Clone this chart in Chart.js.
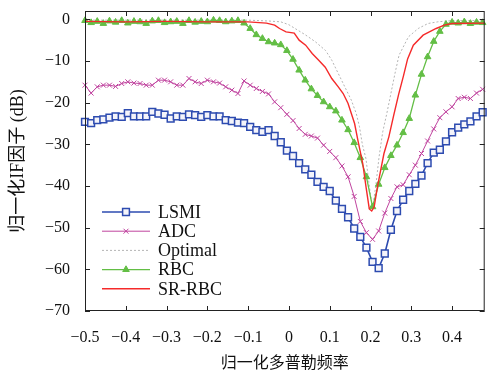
<!DOCTYPE html>
<html lang="zh">
<head>
    <meta charset="UTF-8">
    <title>归一化IF因子</title>
    <script src="https://cdn.jsdelivr.net/npm/chart.js"></script>
    <style>
        body {
            margin: 0;
            background: #fff;
        }
        #wrap {
            width: 491px;
            height: 374px;
            position: relative;
        }
    </style>
</head>
<body>
    <div id="wrap"><canvas id="ifChart"></canvas></div>

    <script>
        // Normalized Doppler frequency (shared by the marker curves)
        const freq = [-0.5, -0.485, -0.47, -0.455, -0.44, -0.425, -0.41, -0.395, -0.38, -0.365,
            -0.35, -0.335, -0.32, -0.305, -0.29, -0.275, -0.26, -0.245, -0.23, -0.215,
            -0.2, -0.185, -0.17, -0.155, -0.14, -0.125, -0.11, -0.095, -0.08, -0.065,
            -0.05, -0.035, -0.02, -0.005, 0.01, 0.025, 0.04, 0.055, 0.07, 0.085,
            0.1, 0.115, 0.13, 0.145, 0.16, 0.175, 0.19, 0.205, 0.22, 0.235,
            0.25, 0.265, 0.28, 0.295, 0.31, 0.325, 0.34, 0.355, 0.37, 0.385,
            0.4, 0.415, 0.43, 0.445, 0.46, 0.475];

        const lsmi = [-24.6, -24.9, -24.2, -24.0, -23.6, -23.3, -23.4, -22.5, -23.3, -23.3,
            -23.3, -22.2, -22.6, -22.9, -23.8, -23.3, -23.4, -22.8, -23.0, -23.4,
            -23.0, -23.3, -23.3, -24.2, -24.4, -24.8, -24.9, -25.8, -26.6, -27.0,
            -26.6, -28.0, -29.5, -31.5, -32.8, -34.5, -36.0, -37.3, -39.0, -40.2,
            -41.2, -43.5, -45.5, -47.5, -50.2, -52.2, -54.8, -58.2, -59.7, -56.2,
            -50.5, -46.0, -43.3, -41.2, -39.5, -37.5, -34.5, -32.0, -31.3, -29.3,
            -27.1, -26.0, -25.2, -24.5, -23.3, -22.3];

        const adc = [-15.8, -17.7, -16.2, -15.8, -15.8, -16.1, -15.4, -15.0, -15.3, -15.4,
            -15.8, -15.8, -14.6, -14.6, -15.0, -15.8, -15.8, -14.2, -15.0, -15.4,
            -14.6, -15.0, -15.3, -16.2, -17.0, -17.8, -14.8, -15.8, -16.6, -17.3,
            -17.9, -19.8, -21.2, -22.8, -24.3, -26.2, -27.6, -28.0, -28.5, -30.2,
            -31.7, -33.2, -35.2, -37.8, -42.5, -48.5, -51.2, -52.8, -50.8, -46.5,
            -43.0, -40.2, -39.7, -37.3, -35.0, -32.2, -29.2, -26.3, -23.6, -22.2,
            -21.0, -19.0, -18.7, -19.0, -17.7, -16.8];

        const rbc = [-0.3, -0.8, -0.5, -1.0, -0.4, -0.7, -0.3, -0.9, -0.5, -0.6,
            -1.0, -0.4, -0.3, -0.8, -0.6, -0.5, -1.0, -0.3, -0.7, -0.5,
            -0.6, -0.2, -0.3, -0.6, -0.4, -0.3, -0.9, -2.2, -3.7, -4.6,
            -5.4, -5.7, -6.1, -7.5, -9.6, -12.2, -14.6, -16.7, -18.3, -19.8,
            -21.0, -22.0, -24.2, -26.5, -29.6, -33.2, -37.8, -45.0, -39.6, -35.6,
            -32.7, -30.2, -27.2, -23.8, -18.2, -13.2, -9.0, -5.3, -2.9, -1.2,
            -0.7, -0.9, -0.6, -1.0, -0.7, -0.8];

        // Curves without markers have their own frequency samples
        const optFreq = [-0.5, -0.3, -0.1, -0.05, -0.02, 0.0, 0.02, 0.04, 0.065, 0.09,
            0.105, 0.12, 0.137, 0.153, 0.165, 0.173, 0.18, 0.189, 0.197, 0.205,
            0.213, 0.221, 0.23, 0.24, 0.25, 0.26, 0.27, 0.293, 0.317, 0.341,
            0.365, 0.4, 0.48];
        const optimal = [-0.2, -0.2, -0.2, -0.4, -0.6, -1.3, -2.5, -3.7, -5.4, -7.5,
            -9.8, -12.8, -16.2, -19.4, -22.6, -25.8, -30.0, -33.5, -40.0, -45.3,
            -40.0, -33.0, -27.0, -22.6, -17.8, -13.0, -8.6, -4.2, -2.2, -1.0,
            -0.6, -0.3, -0.3];

        const srFreq = [-0.5, -0.4, -0.3, -0.2, -0.1, -0.055, -0.035, -0.023, -0.007, 0.013,
            0.025, 0.041, 0.057, 0.073, 0.089, 0.105, 0.121, 0.133, 0.145, 0.153,
            0.161, 0.169, 0.181, 0.189, 0.197, 0.203, 0.209, 0.217, 0.225, 0.233,
            0.245, 0.257, 0.269, 0.281, 0.291, 0.305, 0.329, 0.361, 0.381, 0.4,
            0.48];
        const srRbc = [-0.5, -0.6, -0.5, -0.6, -0.6, -0.9, -1.4, -2.2, -3.0, -3.3,
            -5.0, -6.2, -8.2, -9.8, -11.5, -14.2, -16.2, -17.8, -20.2, -22.6,
            -25.0, -29.0, -34.6, -40.2, -45.5, -46.0, -45.0, -40.2, -36.2, -32.2,
            -28.2, -23.0, -18.0, -13.5, -9.5, -6.2, -3.8, -2.2, -1.4, -1.0,
            -0.9];

        const xTicks = [-0.5, -0.4, -0.3, -0.2, -0.1, 0, 0.1, 0.2, 0.3, 0.4];
        const yTicks = [0, -10, -20, -30, -40, -50, -60, -70];

        const serif = "'Liberation Serif', 'Noto Sans CJK SC', serif";

        function pairs(xs, ys) {
            return xs.map((x, i) => ({ x: x, y: ys[i] }));
        }

        function fmt(v) {
            if (Math.abs(v) < 1e-9) return '0';
            const s = Math.abs(v).toFixed(1);
            return v < 0 ? '\u2212' + s : s;
        }

        // Box round the plot with inward ticks on all four sides
        const framePlugin = {
            id: 'frame',
            afterDraw(chart) {
                const ctx = chart.ctx;
                const { left, right, top, bottom } = chart.chartArea;
                const xs = chart.scales.x, ys = chart.scales.y;
                ctx.save();
                ctx.strokeStyle = '#222';
                ctx.lineWidth = 1;
                ctx.setLineDash([]);
                ctx.strokeRect(left + 0.5, top + 0.5, right - left - 1, bottom - top - 1);
                ctx.beginPath();
                xTicks.forEach(v => {
                    const px = Math.round(xs.getPixelForValue(v)) + 0.5;
                    ctx.moveTo(px, bottom); ctx.lineTo(px, bottom - 5);
                    ctx.moveTo(px, top); ctx.lineTo(px, top + 5);
                });
                yTicks.forEach(v => {
                    const py = Math.round(ys.getPixelForValue(v)) + 0.5;
                    ctx.moveTo(left, py); ctx.lineTo(left + 5, py);
                    ctx.moveTo(right, py); ctx.lineTo(right - 5, py);
                });
                ctx.stroke();
                ctx.restore();
            }
        };

        // Legend sits inside the plot, lower left, without a box
        const legendPlugin = {
            id: 'innerLegend',
            afterDraw(chart) {
                const ctx = chart.ctx;
                const { left } = chart.chartArea;
                const x0 = left + 17, x1 = left + 65;
                ctx.save();
                chart.data.datasets.forEach((ds, i) => {
                    const y = 212 + i * 19.2;
                    ctx.strokeStyle = ds.borderColor;
                    ctx.lineWidth = ds.borderWidth;
                    ctx.setLineDash(ds.borderDash || []);
                    ctx.beginPath();
                    ctx.moveTo(x0, y);
                    ctx.lineTo(x1, y);
                    ctx.stroke();
                    ctx.setLineDash([]);
                    if (ds.pointRadius > 0) {
                        ctx.fillStyle = ds.pointBackgroundColor;
                        ctx.strokeStyle = ds.borderColor;
                        ctx.lineWidth = ds.pointBorderWidth;
                        Chart.helpers.drawPoint(ctx, {
                            pointStyle: ds.pointStyle,
                            radius: ds.pointRadius,
                            borderWidth: ds.pointBorderWidth,
                            rotation: 0
                        }, (x0 + x1) / 2, y);
                    }
                    ctx.fillStyle = '#111';
                    ctx.font = '18px ' + serif;
                    ctx.textBaseline = 'middle';
                    ctx.textAlign = 'left';
                    ctx.fillText(ds.label, x1 + 8, y + 1);
                });
                ctx.restore();
            }
        };

        const ctx = document.getElementById('ifChart').getContext('2d');
        new Chart(ctx, {
            type: 'line',
            data: {
                datasets: [
                    {
                        label: 'LSMI',
                        data: pairs(freq, lsmi),
                        borderColor: '#2d4bb0',
                        borderWidth: 1.6,
                        pointStyle: 'rect',
                        pointRadius: 4.8,
                        pointBorderWidth: 1.5,
                        pointBackgroundColor: '#f4f4fa',
                        order: 4
                    },
                    {
                        label: 'ADC',
                        data: pairs(freq, adc),
                        borderColor: '#c0449f',
                        borderWidth: 1,
                        pointStyle: 'crossRot',
                        pointRadius: 3.5,
                        pointBorderWidth: 1,
                        pointBackgroundColor: '#c0449f',
                        order: 3
                    },
                    {
                        label: 'Optimal',
                        data: pairs(optFreq, optimal),
                        borderColor: '#b4b4b4',
                        borderWidth: 1,
                        borderDash: [2, 2],
                        pointRadius: 0,
                        order: 2
                    },
                    {
                        label: 'RBC',
                        data: pairs(freq, rbc),
                        borderColor: '#63be45',
                        borderWidth: 1.3,
                        pointStyle: 'triangle',
                        pointRadius: 3.8,
                        pointBorderWidth: 1,
                        pointBackgroundColor: '#63be45',
                        order: 1
                    },
                    {
                        label: 'SR-RBC',
                        data: pairs(srFreq, srRbc),
                        borderColor: '#f52a2a',
                        borderWidth: 1.4,
                        pointRadius: 0,
                        order: 0
                    }
                ]
            },
            options: {
                responsive: true,
                maintainAspectRatio: false,
                animation: false,
                clip: false,
                layout: { padding: { top: 11, right: 2, left: 0, bottom: 0 } },
                plugins: {
                    legend: { display: false },
                    tooltip: { enabled: false }
                },
                elements: { line: { tension: 0 } },
                scales: {
                    x: {
                        type: 'linear',
                        min: -0.5,
                        max: 0.48,
                        afterBuildTicks: s => { s.ticks = xTicks.map(v => ({ value: v })); },
                        afterFit: s => { s.height = 63; s.paddingLeft = 0; s.paddingRight = 0; },
                        grid: { display: false, drawTicks: false },
                        border: { display: false },
                        ticks: {
                            padding: 17,
                            maxRotation: 0,
                            autoSkip: false,
                            color: '#111',
                            font: { family: serif, size: 16 },
                            callback: v => fmt(v)
                        },
                        title: {
                            display: true,
                            text: '归一化多普勒频率',
                            color: '#111',
                            font: { family: serif, size: 16 },
                            padding: { top: 0, bottom: 1 }
                        }
                    },
                    y: {
                        type: 'linear',
                        min: -70,
                        max: 2,
                        afterBuildTicks: s => { s.ticks = yTicks.map(v => ({ value: v })); },
                        afterFit: s => { s.width = 85; s.paddingTop = 0; s.paddingBottom = 0; },
                        grid: { display: false, drawTicks: false },
                        border: { display: false },
                        ticks: {
                            padding: 15,
                            color: '#111',
                            font: { family: serif, size: 16 },
                            callback: v => (v === 0 ? '0' : '\u2212' + Math.abs(v))
                        },
                        title: {
                            display: true,
                            text: '归一化IF因子 (dB)',
                            color: '#111',
                            font: { family: serif, size: 18 },
                            padding: { top: 7, bottom: 0 }
                        }
                    }
                }
            },
            plugins: [framePlugin, legendPlugin]
        });
    </script>
</body>
</html>
